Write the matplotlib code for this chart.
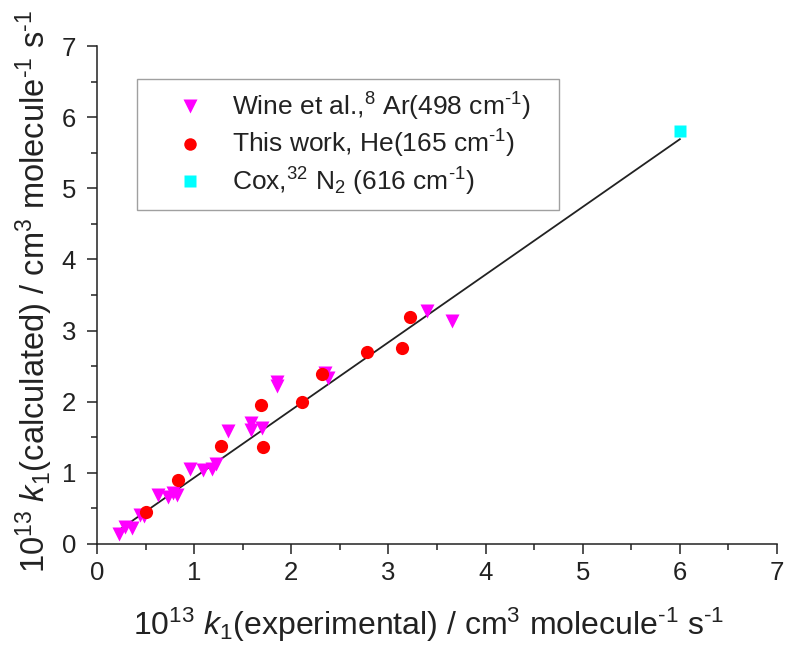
import matplotlib
matplotlib.use("Agg")
import matplotlib.pyplot as plt
from matplotlib.lines import Line2D
from matplotlib.ticker import MultipleLocator

plt.rcParams["font.family"] = ["Liberation Sans", "DejaVu Sans"]
plt.rcParams["mathtext.fontset"] = "custom"
plt.rcParams["mathtext.rm"] = "Liberation Sans"
plt.rcParams["mathtext.it"] = "Liberation Sans:italic"
plt.rcParams["mathtext.bf"] = "Liberation Sans:bold"

# Wine et al., Ar
wine_x = [0.23, 0.29, 0.36, 0.44, 0.48, 0.63, 0.73, 0.78, 0.82, 0.96, 1.09, 1.18,
          1.22, 1.35, 1.58, 1.59, 1.70, 1.85, 1.85, 2.35, 2.38, 3.40, 3.65]
wine_y = [0.14, 0.24, 0.22, 0.41, 0.39, 0.69, 0.66, 0.72, 0.69, 1.06, 1.04, 1.06,
          1.13, 1.59, 1.60, 1.70, 1.63, 2.28, 2.22, 2.40, 2.33, 3.27, 3.14]

# This work, He
this_x = [0.50, 0.83, 1.28, 1.69, 1.71, 2.11, 2.32, 2.78, 3.14, 3.22]
this_y = [0.45, 0.90, 1.38, 1.96, 1.37, 1.99, 2.39, 2.70, 2.75, 3.19]

# Cox, N2
cox_x = [6.00]
cox_y = [5.81]

# linear fit line endpoints
fit_x = [0.22, 6.00]
fit_y = [0.19, 5.69]

H = "\u2010"  # short hyphen for superscript exponents, as in the original

fig = plt.figure(figsize=(7.85, 6.48), dpi=100)
ax = fig.add_axes([0.1236, 0.1605, 0.8662, 0.7685])

ax.plot(fit_x, fit_y, color="#222222", lw=1.3, zorder=2)
ax.plot(wine_x, wine_y, "v", color="#ff00ff", ms=10, mec="none", zorder=3)
ax.plot(this_x, this_y, "o", color="#ff0000", ms=9.5, mec="none", zorder=3)
ax.plot(cox_x, cox_y, "s", color="#00ffff", ms=8, mec="none", zorder=3)

ax.set_xlim(0, 7)
ax.set_ylim(0, 7)
ax.xaxis.set_major_locator(MultipleLocator(1))
ax.xaxis.set_minor_locator(MultipleLocator(0.5))
ax.yaxis.set_major_locator(MultipleLocator(1))
ax.yaxis.set_minor_locator(MultipleLocator(0.5))
ax.spines["top"].set_visible(False)
ax.spines["right"].set_visible(False)
for s in ("left", "bottom"):
    ax.spines[s].set_linewidth(1.1)
    ax.spines[s].set_color("#222222")
ax.tick_params(which="major", direction="out", length=7, width=1.1, colors="#222222",
               labelsize=18.5, labelcolor="#222222")
ax.tick_params(which="minor", direction="out", length=4, width=1.1, colors="#222222")
ax.tick_params(axis="x", pad=5)
ax.tick_params(axis="y", pad=8)

unit = "cm$^3$ molecule$^{" + H + "1}$ s$^{" + H + "1}$"
fig.text(0.546, 0.036, "10$^{13}$ $k_1$(experimental) / " + unit,
         ha="center", va="center", fontsize=23, color="#222222")
fig.text(0.044, 0.551, "10$^{13}$ $k_1$(calculated) / " + unit,
         ha="center", va="center", rotation=90, fontsize=23.5, color="#222222")

handles = [
    Line2D([], [], ls="none", marker="v", color="#ff00ff", ms=10, mec="none"),
    Line2D([], [], ls="none", marker="o", color="#ff0000", ms=9, mec="none"),
    Line2D([], [], ls="none", marker="s", color="#00ffff", ms=8, mec="none"),
]
labels = [
    "Wine et al.,$^{8}$ Ar(498 cm$^{" + H + "1}$)",
    "This work, He(165 cm$^{" + H + "1}$)",
    "Cox,$^{32}$ N$_2$ (616 cm$^{" + H + "1}$)",
]
leg = ax.legend(handles, labels, loc="upper left", bbox_to_anchor=(0.0588, 0.681, 0.62, 0.253),
                mode="expand", borderaxespad=0.0, fontsize=19, frameon=True, fancybox=False,
                borderpad=0.45, handlelength=3.15, handletextpad=0.0, labelspacing=0.2)
leg.get_frame().set_edgecolor("#888888")
leg.get_frame().set_linewidth(1.0)
for t in leg.get_texts():
    t.set_color("#222222")

fig.savefig("out.png", dpi=100)
